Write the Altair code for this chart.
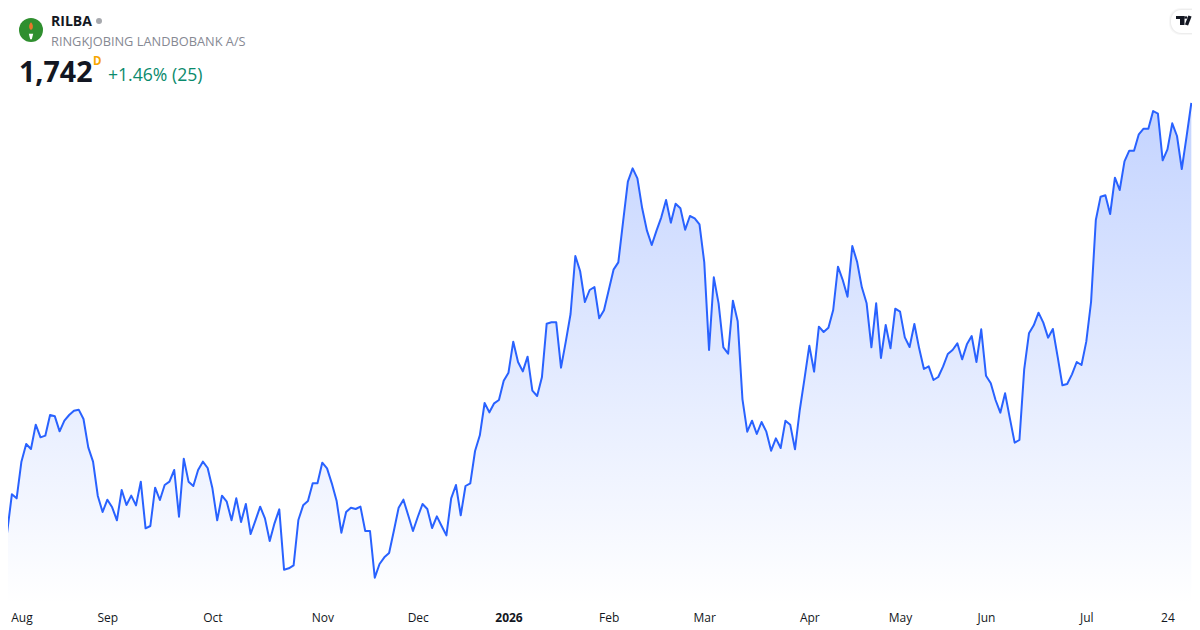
import altair as alt
import pandas as pd

prices = [
 1129,1097.5,1155,1149,1204,1230.5,1223,1259.5,1240.5,1243,1274,1272,1249.5,1265.5,1274,1280.5,1282,1268,1225.5,1204,
 1152.5,1128.5,1147,1135.5,1116,1161.5,1139,1153,1138.5,1174,1104,1107.5,1165,1146.5,1169,1174,1191.5,1121.5,1208.5,1174,
 1167.5,1191.5,1204,1194.5,1164,1116,1153,1144,1116,1149,1113.5,1140.5,1095.5,1115.5,1136.5,1119,1085,1111.5,1132.5,1042,
 1044,1048.5,1116.5,
 1138.5,1145,1171.5,1171.5,1202.5,1194,1171.5,1145.5,1097.5,1128.5,1135,1133,1136.5,1100,1100,1030,1050.5,1060.5,1067,
 1100.5,1135,1147,1123.5,1100,1121,1140.5,1133,1104.5,1122,1107.5,1093.5,1149,1169,1123.5,1167.5,1171.5,1220,1243.5,1292,
 1278,1291.5,1296.5,
 1325.5,1337.5,1384,1353.5,1339.5,1361.5,1310.5,1302.5,1330.5,1411,1413,1413,1345,1384,1425.5,1512.5,1490,1443.5,1461.5,
 1466,1419,1431,1461.5,1492,1503,1564,1624,1644,1629,1584,1550.5,1529,1550.5,1570.5,1596.5,1562.5,1591,1584,1552,1572.5,
 1569,1560,1503,1371.5,1480.5,1441.5,1375.5,1366,1445.5,1414.5,1297.5,
 1249,1265.5,1245.5,1263.5,1249,1220.5,1239,1224.5,1265.5,1259.5,1222.5,1281.5,1329,1378,1339,1406.5,1398.5,1405,1431.5,
 1496.5,1476.5,1451.5,1527.5,1504,1465.5,1441.5,1375.5,1441.5,1359.5,1409,1374,1433.5,1429,1390.5,1376,1410.5,1374,1343,
 1347,1326.5,1331,1346.5,1365.5,1371.5,1381.5,1357.5,1380,1392.5,1353.5,1402.5,
 1333,1321.5,1296.5,1277.5,1306.5,1269,1232.5,1236.5,1342.5,1396.5,1408.5,1427.5,1412.5,1390,1403,1361.5,1318.5,1320.5,
 1335,1353.5,1349,1384,1443.5,1566.5,1601.5,1603.5,1575.5,1630,1611.5,1654.5,1670.5,1670.5,1695,1703.5,1703.5,1730,1726,
 1656,1672.5,1711.5,1692.5,1643,1691.5,1742,
]
tick_index = [4, 22, 44, 67, 87, 106, 127, 147, 169, 188, 206, 227, 244]
tick_text = ["Aug", "Sep", "Oct", "Nov", "Dec", "2026", "Feb", "Mar", "Apr", "May", "Jun", "Jul", "24"]
symbol = "RILBA"
company = "RINGKJOBING LANDBOBANK A/S"
last_price = "1,742"
change = "+1.46% (25)"
interval = "D"

FONT = "Open Sans"
BLUE = "#2962ff"
df = pd.DataFrame({"i": list(range(len(prices))), "p": prices})

label_expr = "[" + ",".join(f"'{t}'" for t in tick_text) + "][indexof([" + ",".join(map(str, tick_index)) + "], datum.value)]"
bold_idx = tick_index[tick_text.index("2026")]

# plot spans page x 8..1192 at 4.775 px per trading day
xscale = alt.Scale(domain=[1.19, 249.14], nice=False, zero=False)
yscale = alt.Scale(domain=[989, 1884.5], nice=False, zero=False)

x_enc = alt.X("i:Q", scale=xscale, axis=alt.Axis(
    values=tick_index, labelExpr=label_expr, title=None, domain=False, ticks=False, grid=False,
    labelFont=FONT, labelFontSize=12, labelColor="#131722", labelPadding=7, labelOverlap=False,
    labelBound=False, labelFlush=False, labelAngle=0,
    labelFontWeight=alt.condition(f"datum.value == {bold_idx}", alt.value("bold"), alt.value("normal")),
))
y_enc = alt.Y("p:Q", scale=yscale, axis=None)

gradient = alt.Gradient(gradient="linear", x1=0, x2=0, y1=0, y2=1, stops=[
    alt.GradientStop(color="rgba(41,98,255,0.28)", offset=0),
    alt.GradientStop(color="rgba(41,98,255,0)", offset=1),
])

area = alt.Chart(df).mark_area(color=gradient, line=False).encode(x=x_enc, y=y_enc, y2=alt.datum(989))
line = alt.Chart(df).mark_line(color=BLUE, strokeWidth=2, strokeJoin="round").encode(x=x_enc, y=y_enc)


def txt(s, px, py, size, color, weight="normal"):
    return alt.Chart(pd.DataFrame({"t": [s]})).mark_text(
        align="left", baseline="middle", font=FONT, fontSize=size, color=color, fontWeight=weight
    ).encode(x=alt.value(px - 8), y=alt.value(py - 8), text="t:N")


def pt(px, py, size, color, shape="circle"):
    return alt.Chart(pd.DataFrame({"t": [0]})).mark_point(
        filled=True, size=size, color=color, opacity=1, shape=shape, strokeWidth=0
    ).encode(x=alt.value(px - 8), y=alt.value(py - 8))


def box(x0, x1, y0, y1, color, **kw):
    return alt.Chart(pd.DataFrame({"t": [0]})).mark_rect(color=color, **kw).encode(
        x=alt.value(x0 - 8), x2=alt.value(x1 - 8), y=alt.value(y0 - 8), y2=alt.value(y1 - 8))


def seg(x0, y0, x1, y1, color, w):
    return alt.Chart(pd.DataFrame({"t": [0]})).mark_rule(color=color, strokeWidth=w).encode(
        x=alt.value(x0 - 8), x2=alt.value(x1 - 8), y=alt.value(y0 - 8), y2=alt.value(y1 - 8))


FLAME = "M0,-1 C0.7,-0.3 0.6,0.7 0,1 C-0.6,0.7 -0.7,-0.3 0,-1Z"
TORCH = "M-0.8,-1 L0.8,-1 L0.3,1 L-0.3,1Z"

decor = [
    txt(symbol, 51, 22, 14, "#131722", "bold"),
    pt(99, 21, 36, "#a6a8ad"),
    txt(company, 51, 42, 12.8, "#868993"),
    txt(last_price, 19, 72.5, 28.6, "#131722", "bold"),
    txt(interval, 93, 62, 11.5, "#f7a600", "bold"),
    txt(change, 108, 76, 17.6, "#0a8a6c"),
    pt(31, 30, 576, "#2f8f2f"),
    pt(31, 36.5, 30, "#ffffff", TORCH),
    pt(31, 26, 60, "#e8762b", FLAME),
    box(1169, 1192, 8, 35, "#000000", opacity=0.03, cornerRadiusTopLeft=13, cornerRadiusBottomLeft=13),
    box(1170, 1192, 9, 34, "#000000", opacity=0.04, cornerRadiusTopLeft=12, cornerRadiusBottomLeft=12),
    box(1171, 1192, 10, 33, "#ffffff", cornerRadiusTopLeft=11, cornerRadiusBottomLeft=11),
    box(1176, 1184.5, 16, 19, "#131722"),
    box(1180, 1184.5, 16, 25, "#131722"),
    pt(1186, 17.5, 7, "#131722"),
    seg(1190, 16, 1186.5, 25, "#131722", 3.4),
]

chart = alt.layer(area, line, *decor).properties(
    width=1184, height=597,
    autosize=alt.AutoSizeParams(type="none", contains="content"),
    padding={"left": 0, "top": 0, "right": 0, "bottom": 25},
    background="#ffffff",
).configure_view(stroke=None)

chart.save("out.html", embed_options={"renderer": "svg", "actions": False})
